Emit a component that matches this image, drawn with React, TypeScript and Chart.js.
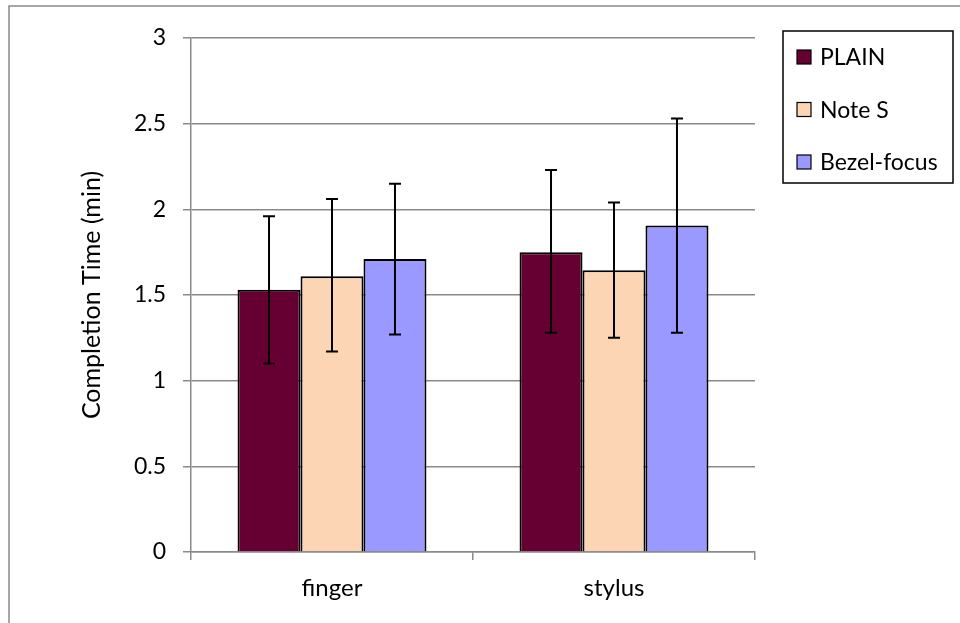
import React, { useEffect, useRef } from "react";
import { Chart, registerables } from "chart.js";

Chart.register(...registerables);

const categories = ["finger", "stylus"];
const seriesNames = ["PLAIN", "Note S", "Bezel-focus"];
const plainValues = [1.53, 1.75];
const noteSValues = [1.61, 1.645];
const bezelValues = [1.71, 1.905];
const plainHigh = [1.96, 2.23];
const plainLow = [1.1, 1.28];
const noteSHigh = [2.06, 2.04];
const noteSLow = [1.17, 1.25];
const bezelHigh = [2.15, 2.53];
const bezelLow = [1.27, 1.28];
const colors = ["#660033", "#FCD5B5", "#9999FF"];

const FONT = "Lato, 'Open Sans', sans-serif";

const errorBarPlugin = {
  id: "errorBars",
  afterDatasetsDraw(chart: any) {
    const ctx = chart.ctx;
    const yScale = chart.scales.y;
    chart.data.datasets.forEach((ds: any, i: number) => {
      const meta = chart.getDatasetMeta(i);
      meta.data.forEach((bar: any, j: number) => {
        const x = bar.x;
        const yh = yScale.getPixelForValue(ds.errHigh[j]);
        const yl = yScale.getPixelForValue(ds.errLow[j]);
        ctx.save();
        ctx.strokeStyle = "#000";
        ctx.lineWidth = 2;
        ctx.beginPath();
        ctx.moveTo(x, yh);
        ctx.lineTo(x, yl);
        ctx.moveTo(x - 6, yh);
        ctx.lineTo(x + 6, yh);
        ctx.moveTo(x - 6, yl);
        ctx.lineTo(x + 6, yl);
        ctx.stroke();
        ctx.restore();
      });
    });
  },
};

const framePlugin = {
  id: "frame",
  beforeDraw(chart: any) {
    const ctx = chart.ctx;
    ctx.save();
    ctx.fillStyle = "#fff";
    ctx.fillRect(0, 0, chart.width, chart.height);
    ctx.strokeStyle = "#8a8a8a";
    ctx.lineWidth = 1.5;
    ctx.beginPath();
    ctx.moveTo(9, chart.height);
    ctx.lineTo(9, 6);
    ctx.lineTo(chart.width, 6);
    ctx.stroke();
    ctx.restore();
  },
};

const legendPlugin = {
  id: "boxLegend",
  afterDraw(chart: any) {
    const ctx = chart.ctx;
    ctx.save();
    ctx.strokeStyle = "#000";
    ctx.lineWidth = 1.5;
    ctx.strokeRect(783, 31, 170, 152);
    ctx.font = `23px ${FONT}`;
    ctx.textBaseline = "middle";
    ctx.textAlign = "left";
    chart.data.datasets.forEach((ds: any, i: number) => {
      const cy = 57 + i * 52.5;
      ctx.fillStyle = ds.backgroundColor;
      ctx.fillRect(797, cy - 7, 14, 14);
      ctx.strokeStyle = "#000";
      ctx.lineWidth = 1.2;
      ctx.strokeRect(797, cy - 7, 14, 14);
      ctx.fillStyle = "#000";
      ctx.fillText(ds.label, 820, cy + 1);
    });
    ctx.restore();
  },
};

export default function App() {
  const ref = useRef<HTMLCanvasElement>(null);
  useEffect(() => {
    if (!ref.current) return;
    const values = [plainValues, noteSValues, bezelValues];
    const highs = [plainHigh, noteSHigh, bezelHigh];
    const lows = [plainLow, noteSLow, bezelLow];
    const chart = new Chart(ref.current, {
      type: "bar",
      data: {
        labels: categories,
        datasets: seriesNames.map((name, i) => ({
          label: name,
          data: values[i],
          errHigh: highs[i],
          errLow: lows[i],
          backgroundColor: colors[i],
          borderColor: "#000",
          borderWidth: 2,
          categoryPercentage: 0.67,
          barPercentage: 1,
        })) as any,
      },
      options: {
        responsive: false,
        animation: false,
        layout: { padding: { left: 0, top: 38, right: 205, bottom: 21 } },
        plugins: { legend: { display: false }, tooltip: { enabled: false } },
        scales: {
          x: {
            afterFit: (s: any) => {
              s.height = 50;
            },
            grid: {
              offset: true,
              drawOnChartArea: false,
              color: "#8a8a8a",
              lineWidth: 1.5,
              tickLength: 8,
            },
            border: { color: "#8a8a8a", width: 1.5 },
            ticks: {
              color: "#000",
              font: { family: FONT, size: 24 },
              padding: 14,
            },
          },
          y: {
            min: 0,
            max: 3,
            afterFit: (s: any) => {
              s.width = 191;
            },
            ticks: {
              stepSize: 0.5,
              color: "#000",
              font: { family: FONT, size: 23 },
              padding: 17,
              callback: (v: any) => String(Number(v)),
            },
            grid: { color: "#8a8a8a", lineWidth: 1.5, tickLength: 8 },
            border: { color: "#8a8a8a", width: 1.5 },
            title: {
              display: true,
              text: "Completion Time (min)",
              color: "#000",
              font: { family: FONT, size: 25 },
              padding: { top: 77, bottom: 0 },
            },
          },
        },
      },
      plugins: [framePlugin, errorBarPlugin, legendPlugin],
    });
    return () => chart.destroy();
  }, []);
  return (
    <div style={{ position: "absolute", left: 0, top: 0, width: 960, height: 623 }}>
      <canvas ref={ref} width={960} height={623} style={{ display: "block" }} />
    </div>
  );
}
